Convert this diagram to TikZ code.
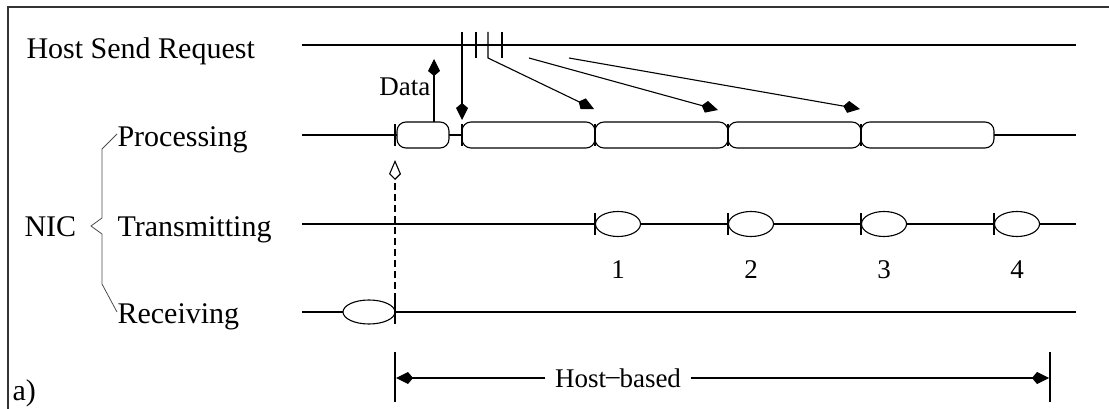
\documentclass[tikz,border=0pt]{standalone}
\usepackage{fontspec}
\setmainfont{Liberation Serif}
\usetikzlibrary{arrows.meta,shapes.geometric}
\begin{document}
\begin{tikzpicture}[x=1pt,y=-1pt,line width=1.1pt,
  lbl/.style={font=\fontsize{30}{34}\selectfont,inner sep=0pt,anchor=base west},
  small/.style={font=\fontsize{27}{30}\selectfont,inner sep=0pt,anchor=base},
  procbox/.style={draw,rounded corners=9pt,minimum height=26pt,inner sep=0pt,fill=white},
  txell/.style={draw,ellipse,minimum width=45pt,minimum height=25pt,inner sep=0pt,fill=white},
  arr/.style={-{Kite[length=17pt,width=12pt,inset=5pt]}},
  oarr/.style={-{Kite[open,length=20pt,width=12pt,inset=6pt]}},
  tick/.style={line width=1.1pt},
  brace/.style={line width=0.8pt,draw=black!70}]
\useasboundingbox (0,0) rectangle (1109,409);
% frame
\draw[line width=1.2pt,draw=black!80] (8,409) -- (8,7) -- (1109,7);
% labels
\node[lbl] (hsr) at (26,59) {Host Send Request};
\node[lbl] (proc) at (117,147) {Processing};
\node[lbl] (trans) at (117,236) {Transmitting};
\node[lbl] (recv) at (117,323) {Receiving};
\node[lbl] (nic) at (24,236) {NIC};
\node[lbl] (alab) at (12,400) {a)};
% brace
\draw[brace] (117,134) -- (102,149) -- (102,218) -- (91,226) -- (102,234) -- (102,284) -- (117,312);
% host send request row
\draw (302,45) -- (1076,45);
% processing row
\draw (302,135) -- (1076,135);
\node[procbox,minimum width=52pt] (p0) at (423,135) {};
\node[procbox,minimum width=133pt] (p1) at (528.5,135) {};
\node[procbox,minimum width=133pt] (p2) at (661.5,135) {};
\node[procbox,minimum width=133pt] (p3) at (794.5,135) {};
\node[procbox,minimum width=133pt] (p4) at (927.5,135) {};
\foreach \x in {395,462,595,728,861} \draw[tick] (\x,124) -- (\x,146);
% transmitting row
\draw (302,224) -- (1076,224);
\foreach \x/\n in {595/1,728/2,861/3,994/4}{
  \draw[tick] (\x,213) -- (\x,235);
  \node[txell] (t\n) at (\x+23,224) {};
  \node[small] (n\n) at (\x+23,278) {\n};
}
% receiving row
\draw (302,312) -- (1076,312);
\node[txell,minimum width=52pt,minimum height=24pt] (r0) at (369,312) {};
\draw[tick] (395,300) -- (395,324);
% host request ticks
\coordinate (h1) at (462,32);
\coordinate (h2) at (476,32);
\coordinate (h3) at (488,32);
\coordinate (h4) at (502,32);
\draw (h2) -- (476,58);
\draw (h4) -- (502,58);
\draw[arr] (h1) -- (462,120);
\draw[arr] (h3) -- (488,58) -- (594,109);
\coordinate (s2) at (529,58);
\coordinate (s3) at (569,58);
\draw[arr] (s2) -- (718,110);
\draw[arr] (s3) -- (860,109);
% data arrow
\draw[arr] (434,122) -- (434,59);
\node[small,anchor=base east] (data) at (431,96) {Data};
% dashed arrow
\draw[dash pattern=on 7pt off 4pt,oarr] (395,300) -- (395,160);
% host-based
\draw (395,352) -- (395,402);
\draw (1050,352) -- (1050,402);
\node[small,inner sep=9pt,anchor=center] (hb) at (618,378) {Host\raisebox{0.25ex}{--}based};
\draw[arr] (hb.west) -- (396,378);
\draw[arr] (hb.east) -- (1049,378);
\end{tikzpicture}
\end{document}
